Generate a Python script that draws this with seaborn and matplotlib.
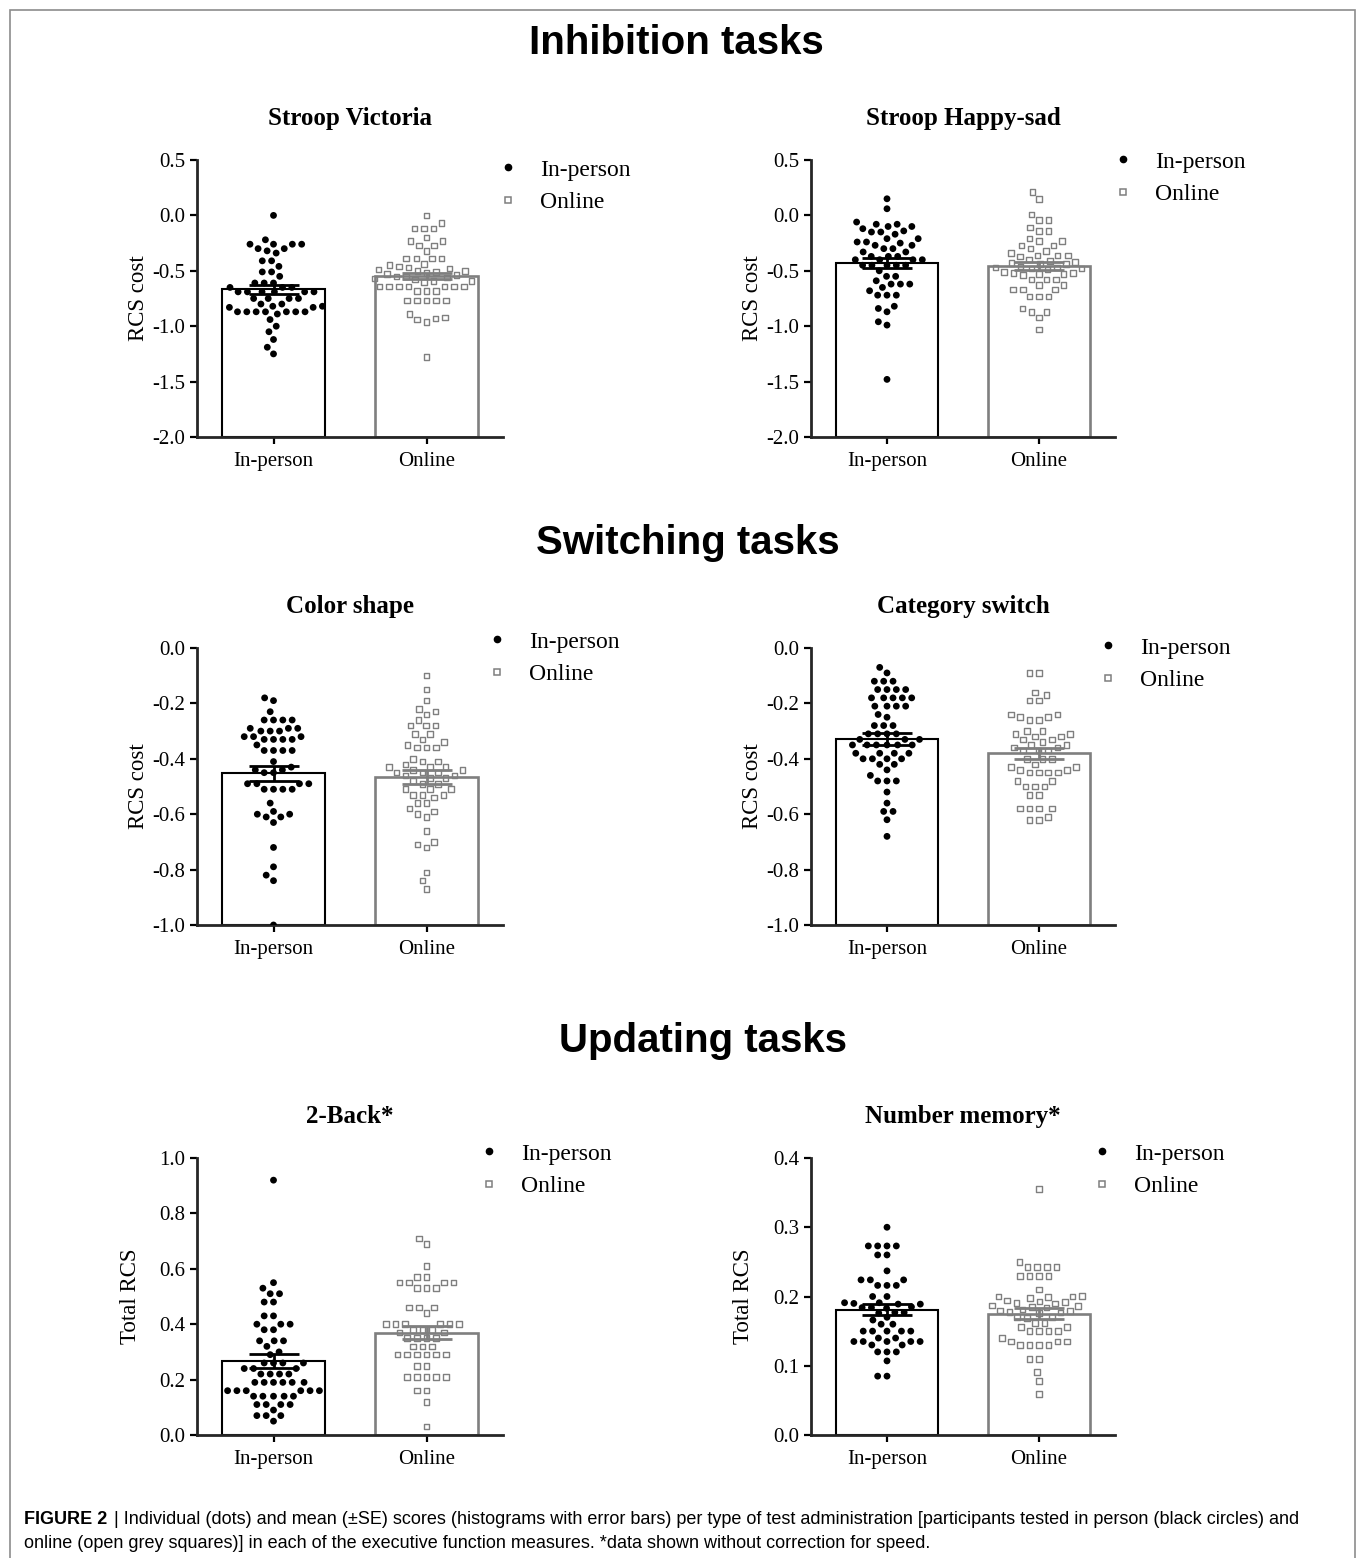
import matplotlib
matplotlib.use('Agg')
import matplotlib.pyplot as plt
import matplotlib.ticker as tkr
from matplotlib.lines import Line2D
from matplotlib.patches import Rectangle
from matplotlib.path import Path
import pandas as pd
import seaborn as sns
import warnings

warnings.filterwarnings('ignore')

# ------------------------------------------------------------------ DATA
GROUPS = ['In-person', 'Online']

# Stroop Victoria (RCS cost)
sv_inperson = [0.00, -0.22, -0.26, -0.26, -0.26, -0.26, -0.30, -0.30, -0.32, -0.34, -0.41, -0.41, -0.46,
               -0.51, -0.51, -0.55, -0.61, -0.61, -0.61, -0.65, -0.65, -0.65, -0.69, -0.69, -0.69, -0.69,
               -0.69, -0.69, -0.75, -0.75, -0.75, -0.75, -0.80, -0.80, -0.82, -0.82, -0.83, -0.83, -0.87,
               -0.87, -0.87, -0.87, -0.87, -0.87, -0.87, -0.89, -0.94, -1.00, -1.05, -1.12, -1.19, -1.25]
sv_online = [0.00, -0.07, -0.12, -0.12, -0.12, -0.20, -0.23, -0.23, -0.27, -0.27, -0.32, -0.39, -0.39, -0.39,
             -0.39, -0.44, -0.45, -0.46, -0.47, -0.48, -0.49, -0.50, -0.50, -0.51, -0.52, -0.53, -0.54, -0.55,
             -0.55, -0.56, -0.57, -0.58, -0.59, -0.59, -0.60, -0.64, -0.64, -0.64, -0.64, -0.64, -0.64,
             -0.64, -0.68, -0.68, -0.68, -0.77, -0.77, -0.77, -0.77, -0.77, -0.89, -0.92, -0.93, -0.94, -0.96,
             -1.28]
sv_means = [-0.665, -0.545]
sv_se = [0.040, 0.027]

# Stroop Happy-sad (RCS cost)
hs_inperson = [0.15, 0.06, -0.06, -0.08, -0.08, -0.10, -0.10, -0.12, -0.14, -0.15, -0.15, -0.17, -0.21, -0.21,
               -0.24, -0.24, -0.25, -0.27, -0.27, -0.30, -0.30, -0.33, -0.33, -0.37, -0.37, -0.37, -0.40, -0.40,
               -0.40, -0.40, -0.45, -0.45, -0.45, -0.45, -0.45, -0.50, -0.55, -0.55, -0.59, -0.62, -0.62, -0.62,
               -0.65, -0.68, -0.72, -0.72, -0.72, -0.82, -0.84, -0.87, -0.96, -0.99, -1.48]
hs_online = [0.21, 0.15, 0.01, -0.04, -0.04, -0.11, -0.14, -0.14, -0.21, -0.23, -0.23, -0.27, -0.27, -0.30,
             -0.32, -0.34, -0.36, -0.37, -0.36, -0.36, -0.40, -0.41, -0.42, -0.43, -0.44, -0.44, -0.46, -0.47,
             -0.47, -0.48, -0.48, -0.49, -0.51, -0.52, -0.52, -0.53, -0.53, -0.54, -0.58, -0.58, -0.58, -0.63,
             -0.63, -0.67, -0.67, -0.67, -0.73, -0.73, -0.73, -0.84, -0.87, -0.87, -0.92, -1.03]
hs_means = [-0.430, -0.457]
hs_se = [0.044, 0.032]

# Color shape (RCS cost)
cs_inperson = [-0.18, -0.19, -0.23, -0.26, -0.26, -0.26, -0.26, -0.29, -0.29, -0.29, -0.30, -0.30, -0.30,
               -0.32, -0.32, -0.32, -0.33, -0.33, -0.33, -0.33, -0.35, -0.37, -0.37, -0.37, -0.37, -0.41,
               -0.43, -0.44, -0.44, -0.45, -0.45, -0.49, -0.49, -0.49, -0.49, -0.51, -0.51, -0.51, -0.51,
               -0.56, -0.59, -0.60, -0.60, -0.61, -0.61, -0.63, -0.72, -0.79, -0.82, -0.84, -1.00]
cs_online = [-0.10, -0.15, -0.19, -0.22, -0.23, -0.24, -0.26, -0.28, -0.28, -0.28, -0.31, -0.31, -0.33, -0.34,
             -0.35, -0.36, -0.36, -0.36, -0.40, -0.41, -0.41, -0.42, -0.43, -0.43, -0.43, -0.44, -0.44, -0.45,
             -0.45, -0.45, -0.46, -0.46, -0.47, -0.47, -0.48, -0.49, -0.49, -0.51, -0.51, -0.51, -0.53, -0.53,
             -0.53, -0.54, -0.56, -0.56, -0.58, -0.59, -0.60, -0.61, -0.66, -0.70, -0.71, -0.72, -0.81, -0.84,
             -0.87]
cs_means = [-0.452, -0.467]
cs_se = [0.027, 0.025]

# Category switch (RCS cost)
cat_inperson = [-0.07, -0.09, -0.12, -0.12, -0.12, -0.15, -0.15, -0.15, -0.15, -0.18, -0.18, -0.18, -0.18,
                -0.18, -0.21, -0.21, -0.21, -0.21, -0.24, -0.25, -0.28, -0.28, -0.28, -0.31, -0.31, -0.31,
                -0.31, -0.33, -0.33, -0.33, -0.35, -0.35, -0.35, -0.35, -0.35, -0.35, -0.38, -0.38, -0.38,
                -0.38, -0.40, -0.40, -0.40, -0.40, -0.42, -0.42, -0.44, -0.46, -0.48, -0.48, -0.48, -0.52,
                -0.56, -0.59, -0.59, -0.62, -0.68]
cat_online = [-0.09, -0.09, -0.16, -0.17, -0.19, -0.19, -0.24, -0.24, -0.25, -0.25, -0.26, -0.26, -0.30, -0.30,
              -0.31, -0.31, -0.32, -0.32, -0.33, -0.33, -0.34, -0.35, -0.35, -0.36, -0.36, -0.37, -0.37, -0.37,
              -0.40, -0.40, -0.40, -0.42, -0.43, -0.43, -0.44, -0.44, -0.45, -0.45, -0.45, -0.45, -0.48, -0.48,
              -0.50, -0.50, -0.50, -0.53, -0.53, -0.58, -0.58, -0.58, -0.58, -0.61, -0.62, -0.62]
cat_means = [-0.329, -0.380]
cat_se = [0.022, 0.020]

# 2-Back (total RCS)
nb_inperson = [0.92, 0.55, 0.53, 0.51, 0.51, 0.48, 0.48, 0.43, 0.43, 0.40, 0.40, 0.40, 0.38, 0.38, 0.34, 0.34,
               0.34, 0.32, 0.30, 0.29, 0.26, 0.26, 0.26, 0.26, 0.24, 0.24, 0.24, 0.22, 0.22, 0.22, 0.22, 0.19,
               0.19, 0.19, 0.19, 0.19, 0.19, 0.16, 0.16, 0.16, 0.16, 0.16, 0.16, 0.14, 0.14, 0.14, 0.14, 0.14,
               0.11, 0.11, 0.11, 0.11, 0.09, 0.07, 0.07, 0.07, 0.05]
nb_online = [0.71, 0.69, 0.61, 0.57, 0.57, 0.55, 0.55, 0.55, 0.55, 0.53, 0.53, 0.53, 0.46, 0.46, 0.46, 0.44,
             0.40, 0.40, 0.40, 0.40, 0.40, 0.40, 0.38, 0.38, 0.38, 0.37, 0.37, 0.35, 0.35, 0.35, 0.35, 0.32,
             0.32, 0.32, 0.29, 0.29, 0.29, 0.29, 0.29, 0.29, 0.25, 0.25, 0.21, 0.21, 0.21, 0.21, 0.21, 0.16,
             0.16, 0.12, 0.03]
nb_means = [0.267, 0.369]
nb_se = [0.025, 0.023]

# Number memory (total RCS)
nm_inperson = [0.300, 0.273, 0.273, 0.273, 0.273, 0.260, 0.260, 0.237, 0.224, 0.224, 0.224, 0.216, 0.216,
               0.216, 0.200, 0.200, 0.191, 0.191, 0.190, 0.189, 0.189, 0.185, 0.184, 0.184, 0.183, 0.177,
               0.177, 0.176, 0.170, 0.166, 0.160, 0.160, 0.150, 0.150, 0.150, 0.150, 0.150, 0.140, 0.140,
               0.135, 0.135, 0.135, 0.135, 0.135, 0.130, 0.130, 0.120, 0.120, 0.120, 0.107, 0.085, 0.085]
nm_online = [0.355, 0.250, 0.243, 0.243, 0.243, 0.243, 0.230, 0.230, 0.230, 0.230, 0.210, 0.201, 0.200, 0.200,
             0.199, 0.198, 0.194, 0.193, 0.192, 0.191, 0.190, 0.187, 0.186, 0.185, 0.184, 0.181, 0.180, 0.179,
             0.178, 0.177, 0.176, 0.170, 0.170, 0.169, 0.162, 0.162, 0.156, 0.156, 0.150, 0.150, 0.150, 0.150,
             0.140, 0.135, 0.135, 0.135, 0.130, 0.130, 0.130, 0.130, 0.110, 0.110, 0.091, 0.078, 0.059]
nm_means = [0.181, 0.175]
nm_se = [0.0075, 0.008]

section_titles = ['Inhibition tasks', 'Switching tasks', 'Updating tasks']
caption_bold = 'FIGURE 2'
caption_line1 = ('| Individual (dots) and mean (\u00b1SE) scores (histograms with error bars) per type of test '
                 'administration [participants tested in person (black circles) and')
caption_line2 = ('online (open grey squares)] in each of the executive function measures. '
                 '*data shown without correction for speed.')

# ------------------------------------------------------------------ STYLE
sns.set_style('ticks')
plt.rcParams['font.family'] = ['Liberation Serif', 'DejaVu Serif']
plt.rcParams['axes.unicode_minus'] = False
plt.rcParams['text.color'] = 'black'
plt.rcParams['axes.labelcolor'] = 'black'
GREY = '#7f7f7f'

# open square drawn smaller than its nominal size, so the swarm keeps some air between squares
SQUARE = Path([(0.70, 0.70), (-0.5, -0.5), (0.5, -0.5), (0.5, 0.5), (-0.5, 0.5), (-0.5, -0.5)],
              [Path.MOVETO, Path.MOVETO, Path.LINETO, Path.LINETO, Path.LINETO, Path.CLOSEPOLY])

W, H = 1360, 1558
fig = plt.figure(figsize=(W / 100, H / 100), dpi=100)


def px_rect(x0, x1, y0, y1):
    return [x0 / W, 1 - y1 / H, (x1 - x0) / W, (y1 - y0) / H]


def draw_panel(rect, title, ylabel, inperson, online, means, ses, ylim, ystep, legend_xy, ylab_x):
    ax = fig.add_axes(rect)
    df = pd.DataFrame({'group': ['In-person'] * len(inperson) + ['Online'] * len(online),
                       'value': inperson + online})
    # bars start at the bottom of the axis (GraphPad style)
    summary = pd.DataFrame({'group': GROUPS, 'mean': means, 'se': ses})
    summary['height'] = summary['mean'] - ylim[0]
    sns.barplot(data=summary, x='group', y='height', order=GROUPS, bottom=ylim[0],
                width=0.67, color='white', ax=ax, zorder=1)
    for patch, ec, lw in zip(ax.patches, ['black', GREY], [1.5, 1.9]):
        patch.set_facecolor('white')
        patch.set_edgecolor(ec)
        patch.set_linewidth(lw)

    # invisible edge widens the swarm spacing a bit
    sns.swarmplot(data=df[df['group'] == 'In-person'], x='group', y='value', order=GROUPS,
                  color='black', size=4.9, edgecolor='none', linewidth=1.5, ax=ax, zorder=3)
    sns.swarmplot(data=df[df['group'] == 'Online'], x='group', y='value', order=GROUPS,
                  marker=SQUARE, size=5.6, facecolor='none', edgecolor=GREY, linewidth=1.0, ax=ax, zorder=3)

    for i, (m, s) in enumerate(zip(means, ses)):
        ax.errorbar(i, m, yerr=s, fmt='none', ecolor=['black', GREY][i], elinewidth=2,
                    capsize=18, capthick=2, zorder=4)

    ax.set_xlim(-0.5, 1.5)
    ax.set_ylim(*ylim)
    ax.yaxis.set_major_locator(tkr.MultipleLocator(ystep))
    ax.yaxis.set_major_formatter(tkr.FormatStrFormatter('%.1f'))
    ax.set_xlabel('')
    ax.set_ylabel(ylabel, fontsize=16.5)
    ax.yaxis.set_label_coords(ylab_x, 0.5)
    ax.set_title(title, fontsize=18, fontweight='bold', pad=25.5)
    sns.despine(ax=ax)
    for sp in ['left', 'bottom']:
        ax.spines[sp].set_linewidth(2)
    ax.tick_params(direction='out', length=5, width=1.6, labelsize=15, colors='black')
    ax.tick_params(axis='x', pad=6)

    handles = [Line2D([], [], marker='o', ls='none', color='black', markersize=4.5),
               Line2D([], [], marker='s', ls='none', mfc='none', mec=GREY, markersize=4.5, mew=1.1)]
    ax.legend(handles, GROUPS, loc='upper left',
              bbox_to_anchor=((legend_xy[0] - 12) / W, 1 - (legend_xy[1] - 9) / H),
              bbox_transform=fig.transFigure, frameon=False, fontsize=17, handlelength=1.0,
              handletextpad=0.85, labelspacing=0.48, borderpad=0, borderaxespad=0)
    return ax


# ------------------------------------------------------------------ PANELS
draw_panel(px_rect(197, 503, 160, 437), 'Stroop Victoria', 'RCS cost', sv_inperson, sv_online,
           sv_means, sv_se, (-2.0, 0.5), 0.5, (508, 168), -0.157)
draw_panel(px_rect(811, 1115, 160, 437), 'Stroop Happy-sad', 'RCS cost', hs_inperson, hs_online,
           hs_means, hs_se, (-2.0, 0.5), 0.5, (1123, 160), -0.157)
draw_panel(px_rect(197, 503, 648, 925), 'Color shape', 'RCS cost', cs_inperson, cs_online,
           cs_means, cs_se, (-1.0, 0.0), 0.2, (497, 640), -0.157)
draw_panel(px_rect(811, 1115, 648, 925), 'Category switch', 'RCS cost', cat_inperson, cat_online,
           cat_means, cat_se, (-1.0, 0.0), 0.2, (1108, 646), -0.157)
draw_panel(px_rect(197, 503, 1158, 1435), '2-Back*', 'Total RCS', nb_inperson, nb_online,
           nb_means, nb_se, (0.0, 1.0), 0.2, (489, 1152), -0.182)
draw_panel(px_rect(811, 1115, 1158, 1435), 'Number memory*', 'Total RCS', nm_inperson, nm_online,
           nm_means, nm_se, (0.0, 0.4), 0.1, (1102, 1152), -0.187)

# section headers
for txt, (x, y) in zip(section_titles, [(676, 43), (688, 543), (703, 1041)]):
    fig.text(x / W, 1 - y / H, txt, ha='center', va='center', fontsize=29, fontweight='bold',
             family=['Liberation Sans', 'DejaVu Sans'])

# caption
cap_kw = dict(fontsize=12.95, va='center', family=['Liberation Sans', 'DejaVu Sans'])
t_bold = fig.text(24 / W, 1 - 1519 / H, caption_bold, fontweight='bold', **cap_kw)
fig.canvas.draw()
bb = t_bold.get_window_extent()
fig.text((bb.x1 + 7) / W, 1 - 1519 / H, caption_line1, **cap_kw)
fig.text(24 / W, 1 - 1544 / H, caption_line2, **cap_kw)

# outer frame
fig.patches.append(Rectangle((10 / W, -0.01), 1345 / W, 1 - 10 / H + 0.01, transform=fig.transFigure,
                             fill=False, edgecolor='#8c8c8c', linewidth=1.2))

fig.savefig('out.png', dpi=100)
